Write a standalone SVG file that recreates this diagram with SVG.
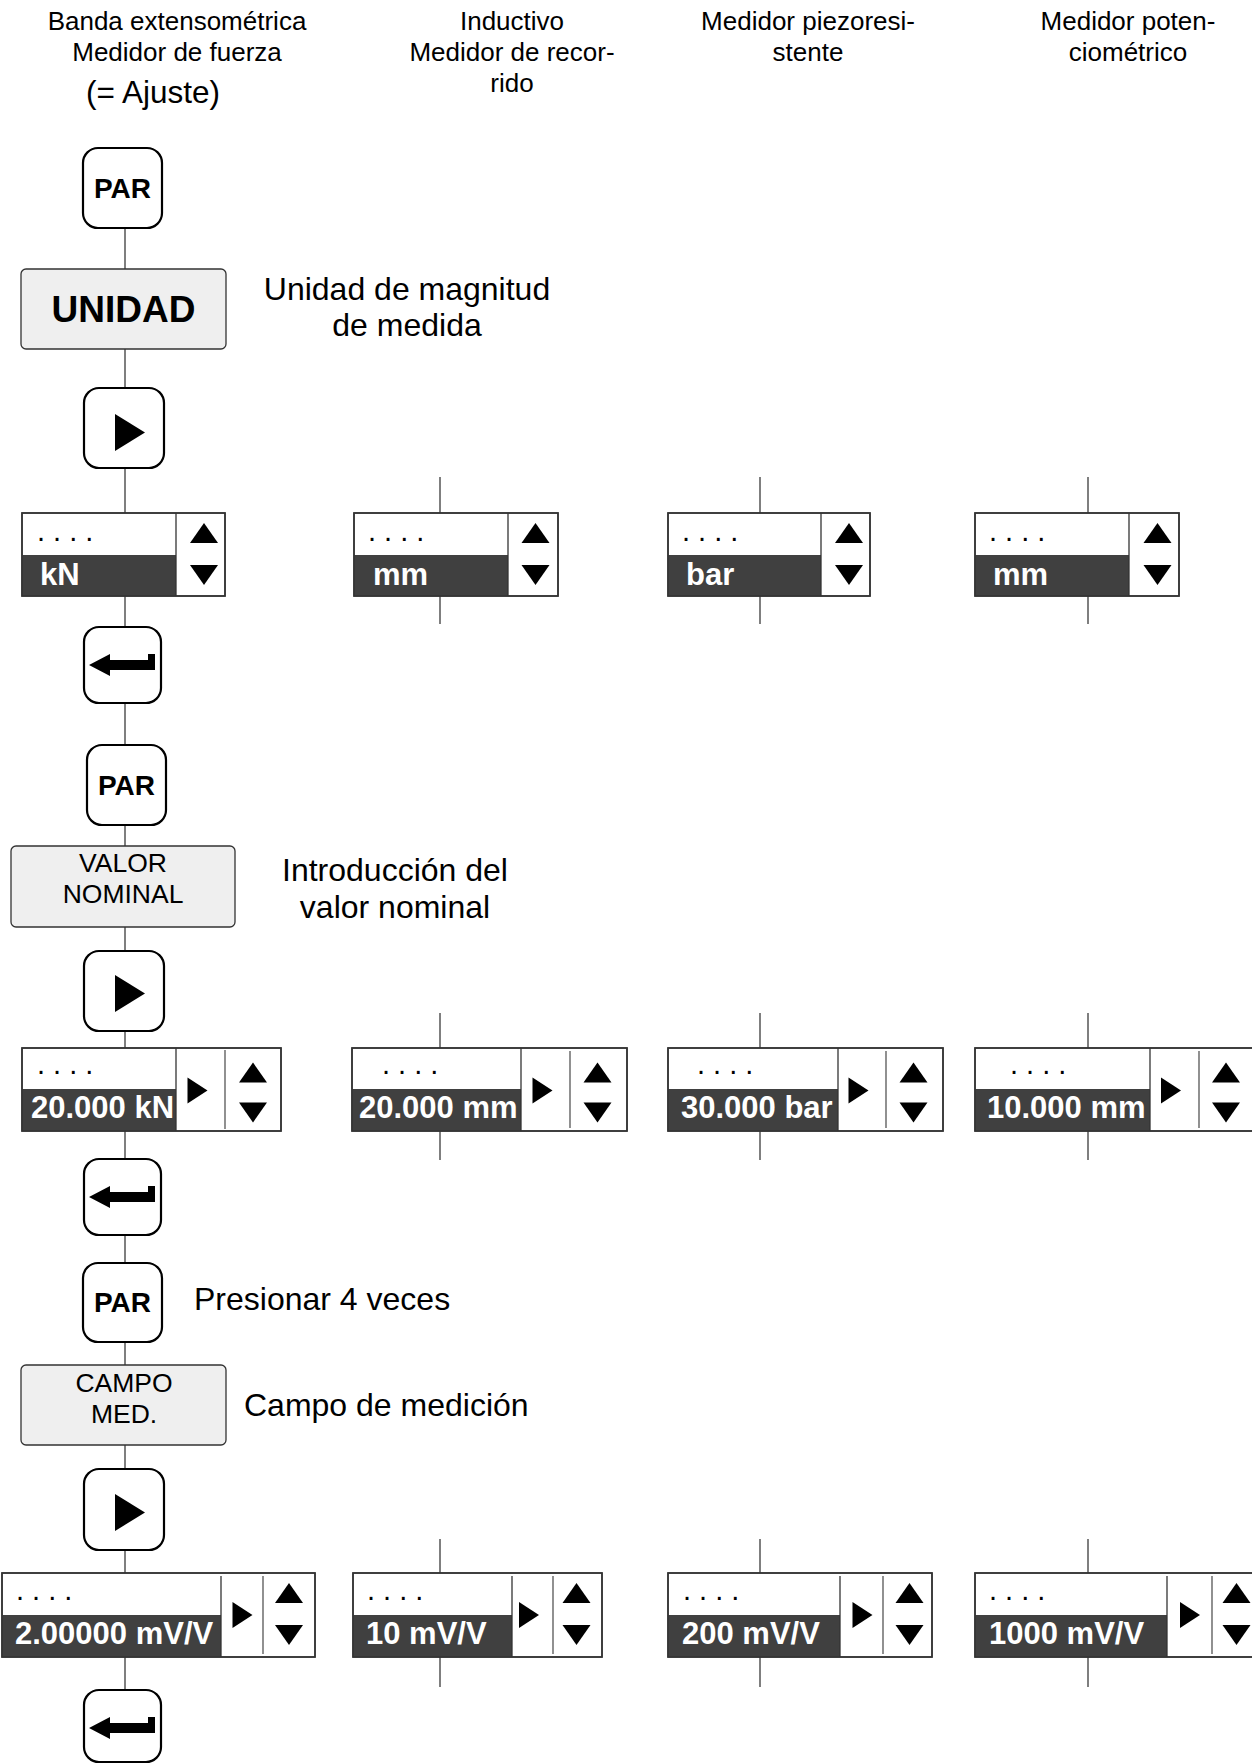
<svg xmlns="http://www.w3.org/2000/svg" xmlns:xlink="http://www.w3.org/1999/xlink" width="1252" height="1764" viewBox="0 0 1252 1764">
<style>
text{font-family:"Liberation Sans",Arial,Helvetica,sans-serif;fill:#000}
.hdr{font-size:26px;text-anchor:middle}
.lbl{font-size:32px}
.mid{text-anchor:middle}
.btn{fill:#fff;stroke:#000;stroke-width:2.2}
.btxt{font-weight:bold;font-size:28px;text-anchor:middle}
.menu{fill:#efefef;stroke:#333;stroke-width:1.3}
.mtxt{font-size:26.5px;text-anchor:middle}
.disp{fill:#fff;stroke:#333;stroke-width:1.5}
.frame{fill:none;stroke:#333;stroke-width:1.5}
.dark{fill:#404040}
.val{font-weight:bold;font-size:31px;fill:#fff}
.dots{font-size:29px}
.sep{stroke:#333;stroke-width:1.3}
.sep2{stroke:#555;stroke-width:1.3}
.conn line{stroke:#555;stroke-width:1.5}
</style>
<defs>
<path id="up" d="M-14,10 L14,10 L0,-10 Z"/>
<path id="down" d="M-14,-10 L14,-10 L0,10 Z"/>
<path id="right" d="M-10,-13 L10,0 L-10,13 Z"/>
<path id="play" d="M31,26 L61,44.5 L31,63 Z"/>
<path id="enter" d="M5,38 L26,27 L26,33 L64,33 L64,27 L71,27 L71,43 L26,43 L26,49 Z"/>
</defs>

<!-- Headers -->
<g id="headers">
<text class="hdr" x="177" y="30">Banda extensométrica</text>
<text class="hdr" x="177" y="61">Medidor de fuerza</text>
<text x="153" y="103" style="font-size:31.5px;text-anchor:middle">(= Ajuste)</text>
<text class="hdr" x="512" y="30">Inductivo</text>
<text class="hdr" x="512" y="61">Medidor de recor-</text>
<text class="hdr" x="512" y="92">rido</text>
<text class="hdr" x="808" y="30">Medidor piezoresi-</text>
<text class="hdr" x="808" y="61">stente</text>
<text class="hdr" x="1128" y="30">Medidor poten-</text>
<text class="hdr" x="1128" y="61">ciométrico</text>
</g>

<!-- Connectors -->
<g id="connectors" class="conn">
<line x1="125" y1="228" x2="125" y2="269"/>
<line x1="125" y1="349" x2="125" y2="388"/>
<line x1="125" y1="468" x2="125" y2="514"/>
<line x1="125" y1="596" x2="125" y2="627"/>
<line x1="125" y1="703" x2="125" y2="745"/>
<line x1="125" y1="825" x2="125" y2="846"/>
<line x1="125" y1="927" x2="125" y2="951"/>
<line x1="125" y1="1031" x2="125" y2="1048"/>
<line x1="125" y1="1131" x2="125" y2="1159"/>
<line x1="125" y1="1235" x2="125" y2="1263"/>
<line x1="125" y1="1342" x2="125" y2="1365"/>
<line x1="125" y1="1445" x2="125" y2="1469"/>
<line x1="125" y1="1550" x2="125" y2="1573"/>
<line x1="125" y1="1657" x2="125" y2="1690"/>
<line x1="440" y1="477" x2="440" y2="513"/>
<line x1="440" y1="596" x2="440" y2="624"/>
<line x1="440" y1="1013" x2="440" y2="1048"/>
<line x1="440" y1="1131" x2="440" y2="1160"/>
<line x1="440" y1="1539" x2="440" y2="1573"/>
<line x1="440" y1="1657" x2="440" y2="1687"/>
<line x1="760" y1="477" x2="760" y2="513"/>
<line x1="760" y1="596" x2="760" y2="624"/>
<line x1="760" y1="1013" x2="760" y2="1048"/>
<line x1="760" y1="1131" x2="760" y2="1160"/>
<line x1="760" y1="1539" x2="760" y2="1573"/>
<line x1="760" y1="1657" x2="760" y2="1687"/>
<line x1="1088" y1="477" x2="1088" y2="513"/>
<line x1="1088" y1="596" x2="1088" y2="624"/>
<line x1="1088" y1="1013" x2="1088" y2="1048"/>
<line x1="1088" y1="1131" x2="1088" y2="1160"/>
<line x1="1088" y1="1539" x2="1088" y2="1573"/>
<line x1="1088" y1="1657" x2="1088" y2="1687"/>
</g>

<!-- Buttons and menu boxes -->
<g id="par1"><rect class="btn" x="83" y="148" width="79" height="80" rx="15"/><text class="btxt" x="122.5" y="198">PAR</text></g>
<g id="unidad"><rect class="menu" x="21" y="269" width="205" height="80" rx="5"/><text x="123.5" y="322" style="font-weight:bold;font-size:37px;text-anchor:middle">UNIDAD</text></g>
<g id="label-unidad"><text class="lbl mid" x="407" y="300">Unidad de magnitud</text><text class="lbl mid" x="407" y="336">de medida</text></g>
<g id="play1"><rect class="btn" x="84" y="388" width="80" height="80" rx="15"/><use xlink:href="#play" x="84" y="388"/></g>
<g id="enter1"><rect class="btn" x="84" y="627" width="77" height="76" rx="15"/><use xlink:href="#enter" x="84" y="627"/></g>
<g id="par2"><rect class="btn" x="87" y="745" width="79" height="80" rx="15"/><text class="btxt" x="126.5" y="795">PAR</text></g>
<g id="valor"><rect class="menu" x="11" y="846" width="224" height="81" rx="5"/><text class="mtxt" x="123" y="872">VALOR</text><text class="mtxt" x="123" y="903">NOMINAL</text></g>
<g id="label-valor"><text class="lbl mid" x="395" y="881">Introducción del</text><text class="lbl mid" x="395" y="918">valor nominal</text></g>
<g id="play2"><rect class="btn" x="84" y="951" width="80" height="80" rx="15"/><use xlink:href="#play" x="84" y="949"/></g>
<g id="enter2"><rect class="btn" x="84" y="1159" width="77" height="76" rx="15"/><use xlink:href="#enter" x="84" y="1159"/></g>
<g id="par3"><rect class="btn" x="83" y="1263" width="79" height="79" rx="15"/><text class="btxt" x="122.5" y="1312">PAR</text></g>
<g id="label-par3"><text class="lbl" x="194" y="1310">Presionar 4 veces</text></g>
<g id="campo"><rect class="menu" x="21" y="1365" width="205" height="80" rx="5"/><text class="mtxt" x="124" y="1392">CAMPO</text><text class="mtxt" x="124" y="1423">MED.</text></g>
<g id="label-campo"><text class="lbl" x="244" y="1416">Campo de medición</text></g>
<g id="play3"><rect class="btn" x="84" y="1469" width="80" height="81" rx="15"/><use xlink:href="#play" x="84" y="1468"/></g>
<g id="enter3"><rect class="btn" x="84" y="1690" width="77" height="72" rx="15"/><use xlink:href="#enter" x="84" y="1690"/></g>

<!-- Row 1 displays: unit -->
<g id="d1-1"><rect class="disp" x="22" y="513" width="203" height="83"/><rect class="dark" x="22" y="555" width="154" height="41"/><line class="sep" x1="176" y1="513" x2="176" y2="596"/><rect class="frame" x="22" y="513" width="203" height="83"/>
<text class="dots" x="37" y="541">. . . .</text><text class="val" x="40" y="585">kN</text>
<use xlink:href="#up" x="204" y="533"/><use xlink:href="#down" x="204" y="575"/></g>
<g id="d1-2"><rect class="disp" x="354" y="513" width="204" height="83"/><rect class="dark" x="354" y="555" width="154" height="41"/><line class="sep" x1="508" y1="513" x2="508" y2="596"/><rect class="frame" x="354" y="513" width="204" height="83"/>
<text class="dots" x="368" y="541">. . . .</text><text class="val" x="373" y="585">mm</text>
<use xlink:href="#up" x="535.5" y="533"/><use xlink:href="#down" x="535.5" y="575"/></g>
<g id="d1-3"><rect class="disp" x="668" y="513" width="202" height="83"/><rect class="dark" x="668" y="555" width="153" height="41"/><line class="sep" x1="821" y1="513" x2="821" y2="596"/><rect class="frame" x="668" y="513" width="202" height="83"/>
<text class="dots" x="682" y="541">. . . .</text><text class="val" x="686" y="585">bar</text>
<use xlink:href="#up" x="849" y="533"/><use xlink:href="#down" x="849" y="575"/></g>
<g id="d1-4"><rect class="disp" x="975" y="513" width="204" height="83"/><rect class="dark" x="975" y="555" width="154" height="41"/><line class="sep" x1="1129" y1="513" x2="1129" y2="596"/><rect class="frame" x="975" y="513" width="204" height="83"/>
<text class="dots" x="989" y="541">. . . .</text><text class="val" x="993" y="585">mm</text>
<use xlink:href="#up" x="1157.5" y="533"/><use xlink:href="#down" x="1157.5" y="575"/></g>

<!-- Row 2 displays: nominal value -->
<g id="d2-1"><rect class="disp" x="22" y="1048" width="259" height="83"/><rect class="dark" x="22" y="1089" width="154" height="42"/><line class="sep" x1="176" y1="1048" x2="176" y2="1131"/><line class="sep2" x1="225" y1="1050" x2="225" y2="1129"/><rect class="frame" x="22" y="1048" width="259" height="83"/>
<text class="dots" x="37" y="1074">. . . .</text><text class="val" x="31" y="1118">20.000 kN</text>
<use xlink:href="#right" x="197.5" y="1090.5"/><use xlink:href="#up" x="253" y="1072.5"/><use xlink:href="#down" x="253" y="1112.5"/></g>
<g id="d2-2"><rect class="disp" x="352" y="1048" width="275" height="83"/><rect class="dark" x="352" y="1089" width="169" height="42"/><line class="sep" x1="521" y1="1048" x2="521" y2="1131"/><line class="sep2" x1="570" y1="1051" x2="570" y2="1128"/><rect class="frame" x="352" y="1048" width="275" height="83"/>
<text class="dots" x="382" y="1074">. . . .</text><text class="val" x="359" y="1118">20.000 mm</text>
<use xlink:href="#right" x="542.5" y="1090.5"/><use xlink:href="#up" x="597.5" y="1072.5"/><use xlink:href="#down" x="597.5" y="1112.5"/></g>
<g id="d2-3"><rect class="disp" x="668" y="1048" width="275" height="83"/><rect class="dark" x="668" y="1089" width="170" height="42"/><line class="sep" x1="838" y1="1048" x2="838" y2="1131"/><line class="sep2" x1="886" y1="1051" x2="886" y2="1128"/><rect class="frame" x="668" y="1048" width="275" height="83"/>
<text class="dots" x="697" y="1074">. . . .</text><text class="val" x="681" y="1118">30.000 bar</text>
<use xlink:href="#right" x="858.5" y="1090.5"/><use xlink:href="#up" x="913.5" y="1072.5"/><use xlink:href="#down" x="913.5" y="1112.5"/></g>
<g id="d2-4"><rect class="disp" x="975" y="1048" width="280" height="83"/><rect class="dark" x="975" y="1089" width="175" height="42"/><line class="sep" x1="1150" y1="1048" x2="1150" y2="1131"/><line class="sep2" x1="1199" y1="1051" x2="1199" y2="1128"/><rect class="frame" x="975" y="1048" width="280" height="83"/>
<text class="dots" x="1010" y="1074">. . . .</text><text class="val" x="987" y="1118">10.000 mm</text>
<use xlink:href="#right" x="1171" y="1090.5"/><use xlink:href="#up" x="1226" y="1072.5"/><use xlink:href="#down" x="1226" y="1112.5"/></g>

<!-- Row 3 displays: measuring range -->
<g id="d3-1"><rect class="disp" x="2" y="1573" width="313" height="84"/><rect class="dark" x="2" y="1615" width="219" height="42"/><line class="sep" x1="221" y1="1576" x2="221" y2="1657"/><line class="sep2" x1="263" y1="1576" x2="263" y2="1654"/><rect class="frame" x="2" y="1573" width="313" height="84"/>
<text class="dots" x="16" y="1600">. . . .</text><text class="val" x="15" y="1644">2.00000 mV/V</text>
<use xlink:href="#right" x="242.5" y="1615"/><use xlink:href="#up" x="289" y="1593"/><use xlink:href="#down" x="289" y="1635"/></g>
<g id="d3-2"><rect class="disp" x="353" y="1573" width="249" height="84"/><rect class="dark" x="353" y="1615" width="159" height="42"/><line class="sep" x1="512" y1="1576" x2="512" y2="1657"/><line class="sep2" x1="553" y1="1576" x2="553" y2="1654"/><rect class="frame" x="353" y="1573" width="249" height="84"/>
<text class="dots" x="367" y="1600">. . . .</text><text class="val" x="366" y="1644">10 mV/V</text>
<use xlink:href="#right" x="529" y="1615"/><use xlink:href="#up" x="576.5" y="1593"/><use xlink:href="#down" x="576.5" y="1635"/></g>
<g id="d3-3"><rect class="disp" x="668" y="1573" width="264" height="84"/><rect class="dark" x="668" y="1615" width="172" height="42"/><line class="sep" x1="840" y1="1576" x2="840" y2="1657"/><line class="sep2" x1="883" y1="1576" x2="883" y2="1654"/><rect class="frame" x="668" y="1573" width="264" height="84"/>
<text class="dots" x="683" y="1600">. . . .</text><text class="val" x="682" y="1644">200 mV/V</text>
<use xlink:href="#right" x="862.5" y="1615"/><use xlink:href="#up" x="909.5" y="1593"/><use xlink:href="#down" x="909.5" y="1635"/></g>
<g id="d3-4"><rect class="disp" x="975" y="1573" width="280" height="84"/><rect class="dark" x="975" y="1615" width="192" height="42"/><line class="sep" x1="1167" y1="1576" x2="1167" y2="1657"/><line class="sep2" x1="1212" y1="1576" x2="1212" y2="1654"/><rect class="frame" x="975" y="1573" width="280" height="84"/>
<text class="dots" x="989" y="1600">. . . .</text><text class="val" x="989" y="1644">1000 mV/V</text>
<use xlink:href="#right" x="1190" y="1615"/><use xlink:href="#up" x="1236.5" y="1593"/><use xlink:href="#down" x="1236.5" y="1635"/></g>
</svg>
